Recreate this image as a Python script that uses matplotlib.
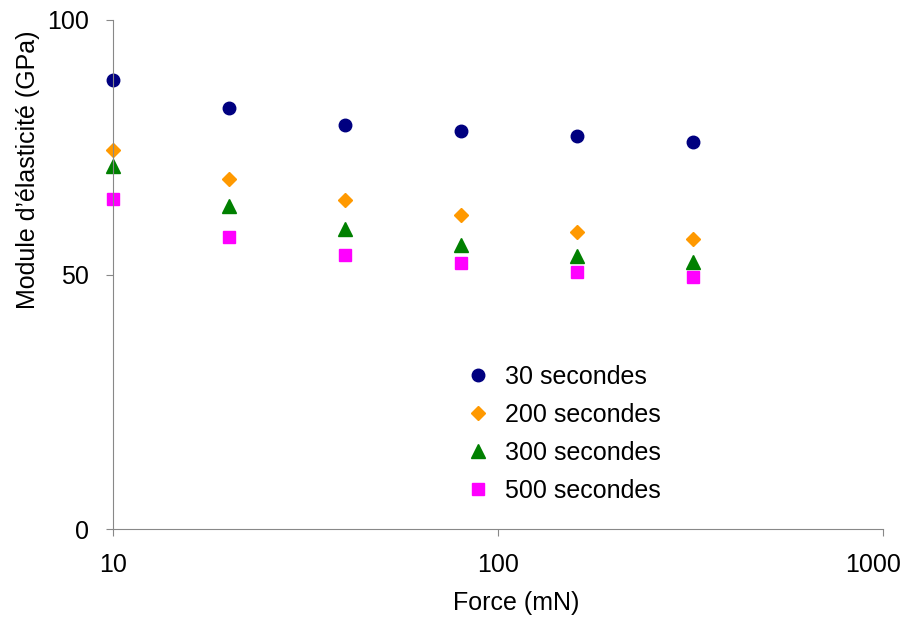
import numpy as np
import matplotlib.pyplot as plt
import matplotlib.transforms as mtransforms

plt.rcParams['font.family'] = ['Liberation Sans', 'DejaVu Sans']

force = [10, 20, 40, 80, 160, 320]  # mN
e30 = [88.2, 82.7, 79.4, 78.2, 77.2, 76.0]
e200 = [74.5, 68.8, 64.6, 61.7, 58.3, 57.0]
e300 = [71.3, 63.5, 58.9, 55.8, 53.6, 52.5]
e500 = [64.8, 57.4, 53.8, 52.3, 50.5, 49.5]
labels = ['30 secondes', '200 secondes', '300 secondes', '500 secondes']

fig = plt.figure(figsize=(9.06, 6.17), dpi=100)
ax = fig.add_axes([0.1247, 0.1426, 0.85, 0.825])

ax.plot(force, e30, 'o', color='#000080', ms=9, label=labels[0], clip_on=False)
ax.plot(force, e200, 'D', color='#FF9900', ms=7, label=labels[1], clip_on=False)
ax.plot(force, e300, '^', color='#008000', ms=10, label=labels[2], clip_on=False)
ax.plot(force, e500, 's', color='#FF00FF', ms=8.5, label=labels[3], clip_on=False)

ax.set_xscale('log')
ax.set_xlim(10, 1000)
ax.set_ylim(0, 100)
ax.set_xticks([10, 100, 1000])
ax.set_xticklabels(['10', '100', '1000'])
ax.set_yticks([0, 50, 100])
ax.minorticks_off()

for s in ['top', 'right']:
    ax.spines[s].set_visible(False)
for s in ['left', 'bottom']:
    ax.spines[s].set_color('#888888')
ax.tick_params(colors='#888888', labelcolor='black', labelsize=18, length=5)
ax.tick_params(axis='x', pad=12)
ax.tick_params(axis='y', pad=12)

# last x label pulled in so it stays inside the figure
lab = ax.get_xticklabels()[-1]
lab.set_transform(lab.get_transform() +
                  mtransforms.ScaledTranslation(-10 / 100, 0, fig.dpi_scale_trans))

# axis titles placed like the original (not centred on the axes)
fig.text(516 / 906, 1 - 603 / 617, 'Force (mN)', fontsize=18,
         ha='center', va='center')
fig.text(28 / 906, 1 - 170 / 617, "Module d\u2019élasticité (GPa)", fontsize=18,
         ha='center', va='center', rotation=90)

ax.legend(loc='upper left', bbox_to_anchor=(0.445, 0.342), frameon=False,
          fontsize=18, handletextpad=0.58, labelspacing=0.56, handlelength=1,
          borderaxespad=0)

fig.savefig('out.png', dpi=100)
